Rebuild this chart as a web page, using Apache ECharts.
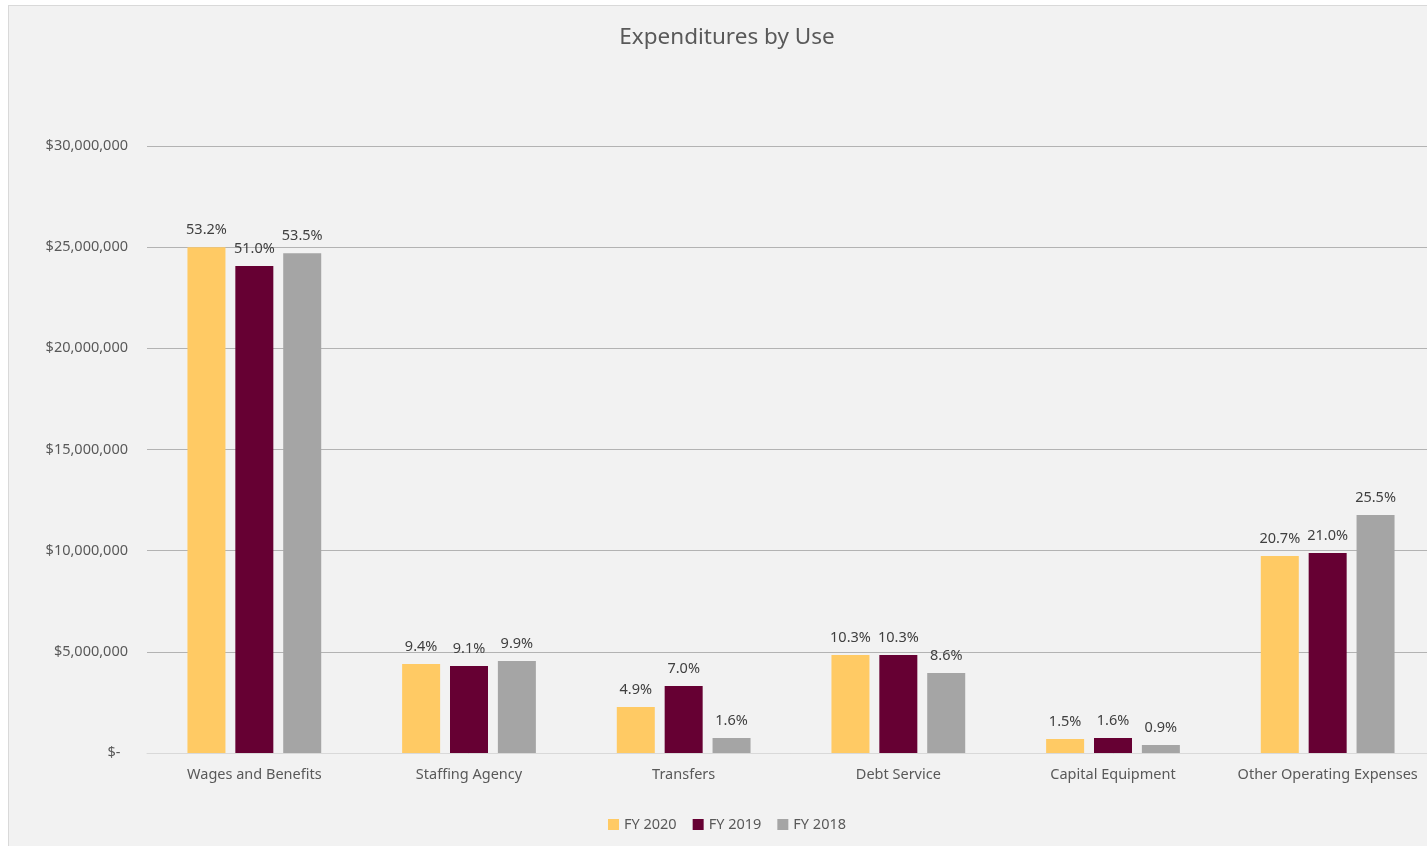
<!DOCTYPE html>
<html>
<head>
<meta charset="utf-8">
<script src="https://cdn.jsdelivr.net/npm/echarts@6/dist/echarts.min.js"></script>
<style>
html,body{margin:0;padding:0;background:#ffffff;overflow:hidden;}
#chart{position:absolute;left:8px;top:5px;width:1438px;height:850px;background:#f2f2f2;border:1px solid #d9d9d9;box-sizing:border-box;}
</style>
</head>
<body>
<div id="chart"></div>
<script>
const categories = ['Wages and Benefits','Staffing Agency','Transfers','Debt Service','Capital Equipment','Other Operating Expenses'];
const seriesNames = ['FY 2020','FY 2019','FY 2018'];
const fy2020 = [25000000, 4400000, 2270000, 4840000, 690000, 9740000];
const fy2019 = [24070000, 4300000, 3310000, 4840000, 740000, 9890000];
const fy2018 = [24700000, 4550000, 740000, 3950000, 400000, 11760000];
const pct2020 = ['53.2%','9.4%','4.9%','10.3%','1.5%','20.7%'];
const pct2019 = ['51.0%','9.1%','7.0%','10.3%','1.6%','21.0%'];
const pct2018 = ['53.5%','9.9%','1.6%','8.6%','0.9%','25.5%'];
const colors = ['#ffca64','#660033','#a5a5a5'];

const FONT = '"Noto Sans", "Open Sans", sans-serif';
function mk(name, data, pcts, color){
  return {
    name: name, type: 'bar', data: data, barWidth: 38, barGap: '26%',
    itemStyle: {color: color},
    label: {show: true, position: 'top', distance: 10, color: '#404040', fontSize: 14.5, fontFamily: FONT,
      formatter: p => pcts[p.dataIndex]}
  };
}
const chart = echarts.init(document.getElementById('chart'));
chart.setOption({
  backgroundColor: '#f2f2f2',
  animation: false,
  color: colors,
  title: {text: 'Expenditures by Use', left: 'center', top: 15,
    textStyle: {color: '#595959', fontSize: 22.5, fontWeight: 'normal', fontFamily: FONT}},
  legend: {bottom: 17, left: 'center', itemWidth: 11, itemHeight: 11, itemGap: 16, icon: 'rect',
    textStyle: {color: '#595959', fontSize: 14.5, fontFamily: FONT}, data: seriesNames},
  grid: {left: 138, right: 10, top: 140, bottom: 101, containLabel: false},
  xAxis: {type: 'category', data: categories,
    axisLine: {lineStyle: {color: '#d9d9d9', width: 1}}, axisTick: {show: false},
    axisLabel: {color: '#595959', fontSize: 14.5, fontFamily: FONT, margin: 14, interval: 0}},
  yAxis: {type: 'value', min: 0, max: 30000000, interval: 5000000,
    axisLine: {show: false}, axisTick: {show: false},
    splitLine: {lineStyle: {color: '#b3b3b3', width: 1}},
    axisLabel: {color: '#595959', fontSize: 14.5, fontFamily: FONT, margin: 19,
      formatter: v => v === 0 ? '$-  ' : '$' + v.toLocaleString('en-US')}},
  series: [mk(seriesNames[0], fy2020, pct2020, colors[0]), mk(seriesNames[1], fy2019, pct2019, colors[1]), mk(seriesNames[2], fy2018, pct2018, colors[2])]
});
</script>
</body>
</html>
